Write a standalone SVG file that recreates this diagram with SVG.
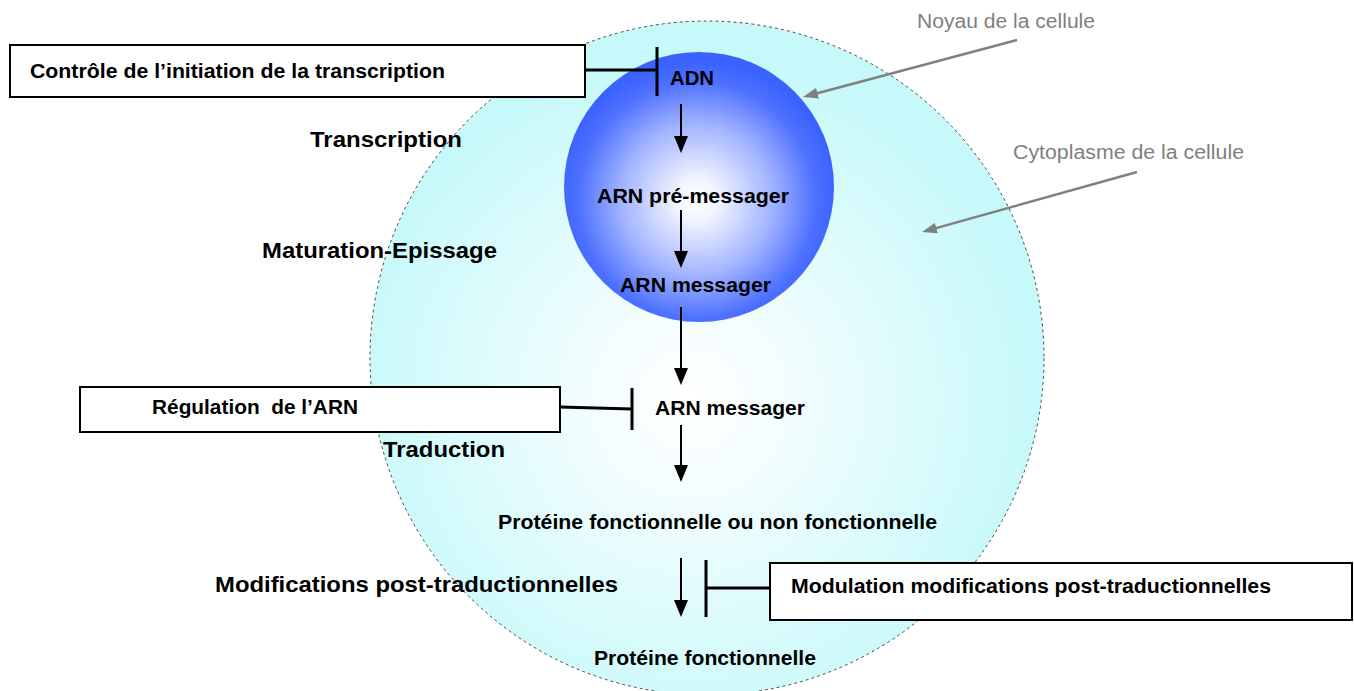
<svg xmlns="http://www.w3.org/2000/svg" width="1354" height="691" viewBox="0 0 1354 691">
<defs>
<radialGradient id="gCell" cx="690" cy="400" r="340" fx="690" fy="400" gradientUnits="userSpaceOnUse">
<stop offset="0" stop-color="#ffffff"/>
<stop offset="0.3" stop-color="#f2fdfe"/>
<stop offset="0.7" stop-color="#dafbfc"/>
<stop offset="1" stop-color="#c8f9fa"/>
</radialGradient>
<radialGradient id="gNuc" cx="697" cy="200" r="140" fx="697" fy="200" gradientUnits="userSpaceOnUse">
<stop offset="0" stop-color="#ffffff"/>
<stop offset="0.15" stop-color="#f2f4ff"/>
<stop offset="0.55" stop-color="#9fb2ff"/>
<stop offset="0.85" stop-color="#4d70ff"/>
<stop offset="1" stop-color="#3a62ff"/>
</radialGradient>
<marker id="ah" viewBox="0 0 17 14" refX="8" refY="7" markerWidth="17" markerHeight="14" markerUnits="userSpaceOnUse" orient="auto">
<path d="M0,0 L17,7 L0,14 z" fill="#000"/>
</marker>
<marker id="ahg" viewBox="0 0 15 11" refX="6" refY="5.5" markerWidth="15" markerHeight="11" markerUnits="userSpaceOnUse" orient="auto">
<path d="M0,0 L15,5.5 L0,11 z" fill="#808080"/>
</marker>
<style>
.b{font-family:"Liberation Sans",Arial,sans-serif;font-weight:bold;fill:#000;white-space:pre}
.s{font-size:19.5px}
.l{font-size:22px}
.g{font-family:"Liberation Sans",Arial,sans-serif;font-size:19.5px;fill:#808080}
.box{fill:#fff;stroke:#000;stroke-width:2}
.arr{stroke:#000;stroke-width:2;fill:none;marker-end:url(#ah)}
.inh{stroke:#000;stroke-width:3;fill:none}
.garr{stroke:#808080;stroke-width:2.5;fill:none;marker-end:url(#ahg)}
</style>
</defs>
<g id="cell">
<circle cx="707" cy="358" r="337" fill="url(#gCell)" stroke="#222" stroke-width="0.8" stroke-dasharray="3 3"/>
</g>
<g id="nucleus">
<circle cx="699" cy="187" r="135" fill="url(#gNuc)"/>
</g>
<g id="labels">
<text class="b l" x="310" y="147" textLength="152" lengthAdjust="spacingAndGlyphs">Transcription</text>
<text class="b l" x="262" y="258" textLength="235" lengthAdjust="spacingAndGlyphs">Maturation-Epissage</text>
<text class="b l" x="383" y="457" textLength="122" lengthAdjust="spacingAndGlyphs">Traduction</text>
<text class="b l" x="215" y="592" textLength="403" lengthAdjust="spacingAndGlyphs">Modifications post-traductionnelles</text>
</g>
<g id="node-adn"><text class="b s" x="670" y="85" textLength="44" lengthAdjust="spacingAndGlyphs">ADN</text></g>
<g id="node-arn-pre"><text class="b s" x="597" y="203" textLength="192" lengthAdjust="spacingAndGlyphs">ARN pré-messager</text></g>
<g id="node-arnm-nuc"><text class="b s" x="620" y="292" textLength="151" lengthAdjust="spacingAndGlyphs">ARN messager</text></g>
<g id="node-arnm-cyto"><text class="b s" x="655" y="415" textLength="150" lengthAdjust="spacingAndGlyphs">ARN messager</text></g>
<g id="node-proteine"><text class="b s" x="498" y="529" textLength="439" lengthAdjust="spacingAndGlyphs">Protéine fonctionnelle ou non fonctionnelle</text></g>
<g id="node-proteine-f"><text class="b s" x="594" y="665" textLength="222" lengthAdjust="spacingAndGlyphs">Protéine fonctionnelle</text></g>
<g id="box-controle">
<rect class="box" x="10" y="45" width="575" height="52"/>
<text class="b s" x="30" y="78" textLength="415" lengthAdjust="spacingAndGlyphs">Contrôle de l’initiation de la transcription</text>
</g>
<g id="box-regulation">
<rect class="box" x="80" y="387" width="480" height="45"/>
<text class="b s" x="152" y="414" textLength="206" lengthAdjust="spacingAndGlyphs" xml:space="preserve">Régulation  de l’ARN</text>
</g>
<g id="box-modulation">
<rect class="box" x="770" y="563" width="582" height="57"/>
<text class="b s" x="791" y="593" textLength="480" lengthAdjust="spacingAndGlyphs">Modulation modifications post-traductionnelles</text>
</g>
<g id="annotations">
<text class="g" x="917" y="28" textLength="178" lengthAdjust="spacingAndGlyphs">Noyau de la cellule</text>
<text class="g" x="1013" y="159" textLength="231" lengthAdjust="spacingAndGlyphs">Cytoplasme de la cellule</text>
</g>
<g id="connectors">
<line class="arr" x1="681" y1="104" x2="681" y2="144"/>
<line class="arr" x1="681" y1="210" x2="681" y2="259"/>
<line class="arr" x1="681" y1="307" x2="681" y2="376"/>
<line class="arr" x1="681" y1="425" x2="681" y2="473"/>
<line class="arr" x1="681" y1="558" x2="681" y2="608"/>
<path class="inh" d="M585,70 H657 M657,47 V96"/>
<path class="inh" d="M560,407 L632,409 M632,388 V430"/>
<path class="inh" d="M770,588 H706 M706,560 V617"/>
<line class="garr" x1="1017" y1="40" x2="811.7" y2="94.7"/>
<line class="garr" x1="1137" y1="172" x2="930.7" y2="229.6"/>
</g>
</svg>
